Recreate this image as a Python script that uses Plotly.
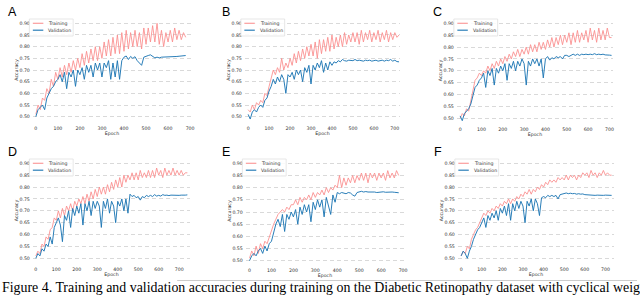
import plotly.graph_objects as go

EPOCH_STEP = 10
EPOCH_TICKS = [0, 100, 200, 300, 400, 500, 600, 700]
PANEL_LABELS = ["A", "B", "C", "D", "E", "F"]
SERIES_NAMES = ["Training", "Validation"]
CAPTION = ("Figure 4. Training and validation accuracies during training on the "
           "Diabetic Retinopathy dataset with cyclical weig")

A_train = [.51, .55, .53, .58, .57, .62, .60, .66, .63, .69,
           .66, .71, .67, .72, .68, .73, .69, .74, .70, .75,
           .71, .77, .72, .78, .73, .79, .74, .80, .74, .80,
           .75, .82, .76, .83, .76, .84, .77, .85, .77, .86,
           .78, .87, .79, .86, .80, .87, .80, .86, .79, .88,
           .81, .88, .82, .89, .82, .90, .81, .87, .80, .86,
           .82, .87, .82, .88, .83, .87, .83, .86, .84]
A_val = [.50, .53, .54, .55, .53, .58, .60, .62, .63, .65,
         .66, .68, .65, .69, .62, .69, .67, .70, .63, .70,
         .68, .71, .66, .72, .69, .72, .67, .73, .70, .73,
         .67, .73, .71, .74, .66, .73, .67, .74, .66, .74,
         .755, .76, .745, .758, .75, .757, .74, .73, .72, .755,
         .76, .762, .765, .76, .752, .755, .752, .755, .755, .756,
         .757, .756, .758, .757, .758, .759, .76, .761, .762]

B_train = [.53, .52, .55, .53, .56, .55, .57, .56, .60, .59,
           .63, .66, .70, .68, .71, .69, .75, .70, .73, .71,
           .75, .72, .77, .73, .78, .74, .79, .75, .80, .76,
           .81, .76, .82, .75, .83, .77, .83, .78, .84, .78,
           .85, .79, .84, .80, .85, .80, .86, .81, .85, .82,
           .86, .82, .86, .81, .87, .82, .86, .83, .87, .82,
           .86, .83, .87, .82, .86, .83, .87, .82, .86, .83,
           .86, .84, .85]
B_val = [.51, .49, .52, .53, .52, .54, .55, .54, .57, .58,
         .61, .63, .66, .64, .67, .65, .68, .66, .60, .68,
         .67, .69, .66, .70, .68, .70, .65, .71, .69, .72,
         .64, .72, .70, .73, .71, .74, .69, .73, .70, .735,
         .72, .735, .73, .74, .735, .745, .74, .738, .742, .74,
         .74, .745, .74, .742, .74, .738, .742, .74, .742, .738,
         .74, .742, .738, .74, .742, .738, .742, .74, .745, .738,
         .742, .736, .735]

C_train = [.50, .52, .51, .54, .53, .57, .62, .66, .67, .69,
           .68, .70, .69, .72, .70, .73, .71, .74, .72, .75,
           .73, .76, .74, .77, .75, .78, .76, .79, .76, .79,
           .77, .80, .77, .81, .78, .81, .78, .82, .79, .82,
           .79, .83, .80, .84, .80, .84, .81, .85, .81, .85,
           .82, .86, .81, .86, .82, .87, .82, .86, .83, .87,
           .82, .88, .83, .87, .82, .88, .83, .87, .83, .88,
           .84, .84]
C_val = [.51, .49, .52, .53, .54, .56, .60, .63, .64, .66,
         .67, .69, .63, .70, .68, .71, .64, .71, .69, .72,
         .70, .73, .66, .73, .71, .74, .70, .74, .72, .75,
         .73, .64, .74, .72, .75, .73, .75, .72, .75, .67,
         .75, .76, .745, .755, .75, .76, .755, .76, .75, .765,
         .765, .76, .765, .77, .765, .77, .765, .77, .768, .77,
         .768, .77, .768, .772, .768, .77, .768, .77, .767, .768,
         .766, .765]

D_train = [.51, .53, .52, .56, .55, .59, .58, .62, .63, .67,
           .66, .70, .67, .71, .68, .72, .70, .73, .70, .74,
           .72, .75, .73, .76, .73, .77, .74, .78, .75, .79,
           .76, .80, .77, .80, .77, .81, .78, .82, .79, .83,
           .80, .84, .80, .85, .82, .85, .83, .86, .83, .86,
           .83, .87, .84, .86, .84, .87, .84, .87, .84, .88,
           .85, .87, .84, .88, .85, .87, .85, .88, .85, .87,
           .85, .87, .85, .86, .86]
D_val = [.50, .52, .51, .54, .53, .56, .55, .59, .56, .63,
         .65, .67, .64, .57, .68, .66, .70, .63, .71, .68,
         .72, .69, .73, .64, .73, .70, .74, .68, .74, .71,
         .74, .72, .63, .74, .71, .75, .69, .74, .72, .65,
         .74, .72, .75, .70, .75, .69, .77, .76, .765, .755,
         .76, .745, .76, .755, .765, .76, .765, .76, .768, .762,
         .765, .762, .768, .765, .766, .764, .766, .765, .766, .764,
         .765, .766, .765, .766, .767]

E_train = [.51, .54, .52, .56, .53, .57, .55, .58, .57, .60,
           .62, .65, .67, .69, .70, .71, .70, .72, .71, .73,
           .73, .75, .73, .76, .74, .76, .75, .77, .75, .78,
           .76, .78, .77, .79, .77, .80, .78, .80, .79, .81,
           .80, .85, .80, .84, .81, .84, .82, .85, .82, .85,
           .83, .86, .83, .86, .82, .86, .84, .86, .83, .86,
           .84, .86, .83, .87, .84, .86, .84, .87, .85]
E_val = [.50, .52, .53, .52, .54, .55, .53, .56, .54, .57,
         .58, .62, .65, .67, .64, .69, .62, .69, .67, .70,
         .68, .71, .65, .72, .69, .73, .70, .73, .66, .74,
         .71, .75, .72, .75, .68, .76, .73, .69, .77, .74,
         .78, .775, .78, .778, .775, .78, .778, .77, .765, .78,
         .783, .785, .782, .784, .782, .783, .781, .782, .78, .782,
         .781, .783, .781, .782, .78, .782, .781, .78, .779]

F_train = [.51, .53, .52, .55, .54, .58, .60, .62, .63, .65,
           .67, .69, .68, .70, .69, .71, .70, .72, .71, .73,
           .72, .74, .73, .75, .73, .75, .74, .76, .75, .77,
           .76, .78, .77, .79, .77, .79, .78, .80, .79, .81,
           .80, .82, .81, .83, .82, .83, .82, .84, .83, .84,
           .83, .85, .83, .85, .84, .85, .83, .85, .84, .86,
           .85, .86, .84, .87, .85, .86, .84, .86, .85, .87,
           .85, .86, .85, .85]
F_val = [.51, .53, .52, .50, .53, .55, .58, .60, .62, .63,
         .65, .67, .63, .68, .66, .69, .67, .70, .66, .71,
         .69, .72, .68, .73, .66, .73, .70, .74, .71, .74,
         .72, .65, .74, .72, .75, .70, .75, .73, .68, .755,
         .76, .755, .765, .76, .765, .76, .765, .75, .768, .77,
         .772, .775, .772, .774, .772, .773, .77, .772, .77, .771,
         .768, .767, .768, .766, .767, .765, .766, .765, .766, .765,
         .766, .765, .766, .765]

TRAIN = [A_train, B_train, C_train, D_train, E_train, F_train]
VAL = [A_val, B_val, C_val, D_val, E_val, F_val]

W, H = 640, 298
# pixel geometry: axes box (L,R,T,B), pixel of epoch 0 / 700, pixel of acc 0.90 / 0.50,
# legend box top-left, panel letter centre
GEOM = [
    dict(L=33, R=192, T=19, B=121, x0=36.0, x7=191.0, y9=23.3, y5=116.7, lg=(29.5, 19), let=(12.5, 11.7)),
    dict(L=246, R=402, T=19, B=121, x0=249.3, x7=396.7, y9=23.3, y5=116.7, lg=(242, 19), let=(226.7, 11.7)),
    dict(L=459, R=616, T=19, B=122, x0=462.3, x7=612.3, y9=23.3, y5=118.3, lg=(456, 19), let=(440, 11.7)),
    dict(L=33, R=191, T=159, B=262, x0=36.0, x7=180.0, y9=163.3, y5=258.3, lg=(29.5, 159), let=(12.5, 151.7)),
    dict(L=247, R=406, T=159, B=263, x0=250.7, x7=405.0, y9=163.3, y5=260.7, lg=(243.5, 159), let=(227, 151.7)),
    dict(L=460, R=617, T=159, B=262, x0=463.3, x7=608.3, y9=163.3, y5=258.3, lg=(457, 159), let=(440, 151.7)),
]

TRAIN_COLOR = "rgba(250,140,140,0.85)"
VAL_COLOR = "rgba(31,119,180,0.95)"
COLORS = [TRAIN_COLOR, VAL_COLOR]
TXT = "#333333"
FS = 4.7
TICK_FONT = dict(family="DejaVu Sans", size=FS, color=TXT)

fig = go.Figure()
layout = dict(width=W, height=H, margin=dict(l=0, r=0, t=0, b=0),
              paper_bgcolor="white", plot_bgcolor="white", showlegend=False)
annotations = []
shapes = []


def px(x):
    return x / W


def py(y):
    return 1 - y / H


for i, g in enumerate(GEOM):
    n = i + 1
    xa = "xaxis" if n == 1 else f"xaxis{n}"
    ya = "yaxis" if n == 1 else f"yaxis{n}"
    xr = "x" if n == 1 else f"x{n}"
    yr = "y" if n == 1 else f"y{n}"

    ppe = (g["x7"] - g["x0"]) / 700.0
    ppu = (g["y5"] - g["y9"]) / 0.40
    x_range = [(g["L"] - g["x0"]) / ppe, (g["R"] - g["x0"]) / ppe]
    y_range = [0.50 - (g["B"] - g["y5"]) / ppu, 0.90 + (g["y9"] - g["T"]) / ppu]

    for name, data, col in ((SERIES_NAMES[0], TRAIN[i], COLORS[0]),
                            (SERIES_NAMES[1], VAL[i], COLORS[1])):
        epochs = [k * EPOCH_STEP for k in range(len(data))]
        fig.add_trace(go.Scatter(x=epochs, y=data, mode="lines", name=name,
                                 line=dict(color=col, width=1.0),
                                 xaxis=xr, yaxis=yr, hoverinfo="skip"))

    layout[xa] = dict(domain=[px(g["L"]), px(g["R"])], range=x_range, anchor=yr,
                      tickmode="array", tickvals=EPOCH_TICKS,
                      showgrid=False, zeroline=False, showline=False, ticks="",
                      tickfont=TICK_FONT, ticklabelstandoff=3,
                      title=dict(text="Epoch", font=dict(family="DejaVu Sans", size=FS, color=TXT),
                                 standoff=2))
    layout[ya] = dict(domain=[py(g["B"]), py(g["T"])], range=y_range, anchor=xr,
                      tickmode="linear", tick0=0.5, dtick=0.05, tickformat=".2f",
                      showgrid=True, gridcolor="#d9d9d9", gridwidth=0.8, griddash="4px,3px",
                      zeroline=False, showline=False, ticks="",
                      tickfont=TICK_FONT, ticklabelstandoff=2,
                      title=dict(text="Accuracy", font=dict(family="DejaVu Sans", size=FS, color=TXT),
                                 standoff=0))

    # legend (frame, swatches, labels)
    lx, ly = g["lg"]
    shapes.append(dict(type="rect", xref="paper", yref="paper",
                       x0=px(lx), x1=px(lx + 44), y0=py(ly + 17), y1=py(ly),
                       fillcolor="rgba(255,255,255,0.85)", line=dict(color="#dddddd", width=0.7)))
    for k, (name, col) in enumerate(zip(SERIES_NAMES, COLORS)):
        yy = ly + 4.3 + k * 6.9
        shapes.append(dict(type="line", xref="paper", yref="paper",
                           x0=px(lx + 3.5), x1=px(lx + 14), y0=py(yy), y1=py(yy),
                           line=dict(color=col, width=1.2)))
        annotations.append(dict(text=name, x=px(lx + 17), y=py(yy), xref="paper", yref="paper",
                                xanchor="left", yanchor="middle", showarrow=False,
                                font=dict(family="DejaVu Sans", size=FS, color=TXT)))

    annotations.append(dict(text=PANEL_LABELS[i], x=px(g["let"][0]), y=py(g["let"][1]),
                            xref="paper", yref="paper", xanchor="center", yanchor="middle",
                            showarrow=False,
                            font=dict(family="Liberation Sans", size=12.5, color="black")))

annotations.append(dict(text=CAPTION, x=px(0.5), y=py(287), xref="paper", yref="paper",
                        xanchor="left", yanchor="middle", showarrow=False,
                        font=dict(family="Liberation Serif", size=13.9, color="black")))
shapes.append(dict(type="line", xref="paper", yref="paper", x0=px(178), x1=1,
                   y0=py(280.5), y1=py(280.5), line=dict(color="#cccccc", width=1)))
layout["annotations"] = annotations
layout["shapes"] = shapes

fig.update_layout(**layout)
fig.write_html("out.html", config={"displayModeBar": False},
               post_script="document.body.style.margin='0';document.body.style.overflow='hidden';")
